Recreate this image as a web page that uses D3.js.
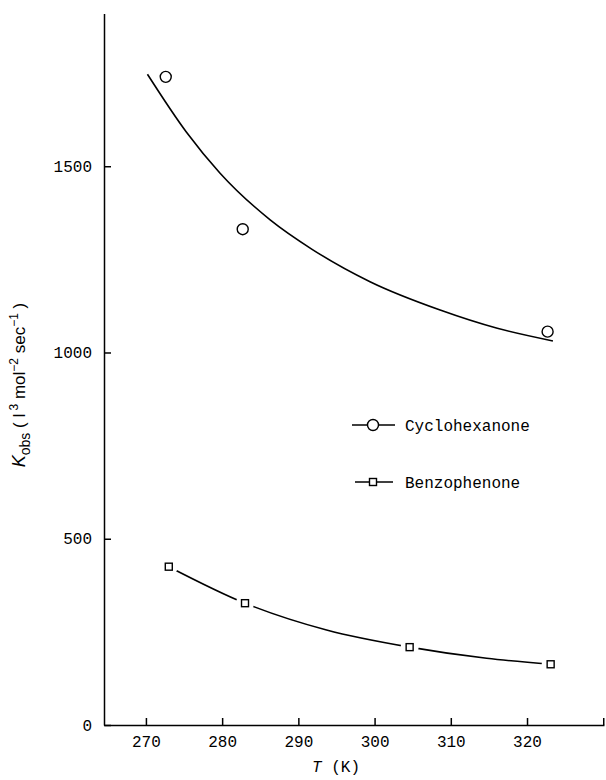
<!DOCTYPE html>
<html><head><meta charset="utf-8">
<script src="https://cdn.jsdelivr.net/npm/d3@7"></script>
<style>body{margin:0;background:#fff}svg{display:block}</style>
</head><body>
<svg id="c" width="606" height="780"></svg>
<script>
// ---- data ----
const cycloT = [272.6, 282.7, 322.7];
const cycloK = [1740, 1331, 1056];
const benzoT = [273.0, 283.0, 304.6, 323.1];
const benzoK = [425, 327, 209, 163];
// drawn smooth fitted curves
const cycloFitT = [270.2, 275.3, 279.7, 286.3, 291.8, 299.4, 308.6, 316.1, 323.4];
const cycloFitK = [1747, 1592, 1482, 1356, 1277, 1190, 1114, 1065, 1031];
const benzoFitT = [273.0, 283.0, 293.7, 304.6, 314.7, 323.1];
const benzoFitK = [425, 327, 255, 209, 179, 163];
const xTicks = [270, 280, 290, 300, 310, 320, 330];
const xTickLabels = ["270", "280", "290", "300", "310", "320", ""];
const yTicks = [0, 500, 1000, 1500];
const yTickLabels = ["0", "500", "1000", "1500"];
const legendLabels = ["Cyclohexanone", "Benzophenone"];

const svg = d3.select("#c");
const x = d3.scaleLinear().domain([264.5, 330.1]).range([104, 604]);
const y = d3.scaleLinear().domain([0, 1910]).range([725, 13.5]);
const mono = "'Liberation Mono', 'DejaVu Sans Mono', monospace";

// axes
const xAxis = d3.axisBottom(x).tickValues(xTicks)
  .tickFormat((d, i) => xTickLabels[i]).tickSizeInner(-7).tickSizeOuter(0).tickPadding(11);
const gx = svg.append("g").attr("transform", `translate(0,${y(0)})`).call(xAxis);
const yAxis = d3.axisLeft(y).tickValues(yTicks)
  .tickFormat((d, i) => yTickLabels[i]).tickSizeInner(-7).tickSizeOuter(0).tickPadding(12);
const gy = svg.append("g").attr("transform", `translate(${x.range()[0]},0)`).call(yAxis);
[gx, gy].forEach(g => {
  g.selectAll("path,line").attr("stroke", "#000").attr("stroke-width", 1.5);
  g.selectAll("text").attr("font-family", mono).attr("font-size", 16).attr("fill", "#000");
});

// curves
const line = d3.line().x(d => x(d[0])).y(d => y(d[1])).curve(d3.curveMonotoneX);
svg.append("path").attr("d", line(cycloFitT.map((t, i) => [t, cycloFitK[i]])))
  .attr("fill", "none").attr("stroke", "#000").attr("stroke-width", 1.6);
svg.append("path").attr("d", line(benzoFitT.map((t, i) => [t, benzoFitK[i]])))
  .attr("fill", "none").attr("stroke", "#000").attr("stroke-width", 1.6);

// markers
svg.selectAll("circle.cy").data(cycloT).enter().append("circle")
  .attr("cx", d => x(d)).attr("cy", (d, i) => y(cycloK[i])).attr("r", 5.5)
  .attr("fill", "#fff").attr("stroke", "#000").attr("stroke-width", 1.4);
// white halo producing the gaps in the benzophenone line
svg.selectAll("circle.halo").data(benzoT).enter().append("circle")
  .attr("cx", d => x(d)).attr("cy", (d, i) => y(benzoK[i])).attr("r", 9).attr("fill", "#fff");
svg.selectAll("rect.bz").data(benzoT).enter().append("rect")
  .attr("x", d => x(d) - 3.5).attr("y", (d, i) => y(benzoK[i]) - 3.5)
  .attr("width", 7).attr("height", 7)
  .attr("fill", "#fff").attr("stroke", "#000").attr("stroke-width", 1.4);

// legend
const leg = [{y: 425, l: [352, 395], sym: "circle"}, {y: 482, l: [355, 393], sym: "square"}];
leg.forEach((o, i) => {
  svg.append("line").attr("x1", o.l[0]).attr("x2", o.l[1]).attr("y1", o.y).attr("y2", o.y)
    .attr("stroke", "#000").attr("stroke-width", 1.4);
  if (o.sym === "circle") {
    svg.append("circle").attr("cx", 373).attr("cy", o.y).attr("r", 5.5)
      .attr("fill", "#fff").attr("stroke", "#000").attr("stroke-width", 1.4);
  } else {
    svg.append("rect").attr("x", 369.5).attr("y", o.y - 3.5).attr("width", 7).attr("height", 7)
      .attr("fill", "#fff").attr("stroke", "#000").attr("stroke-width", 1.4);
  }
  svg.append("text").attr("x", 405).attr("y", o.y + 5.5)
    .attr("font-family", mono).attr("font-size", 16).text(legendLabels[i]);
});

// axis titles
const xl = svg.append("text").attr("x", 336).attr("y", 772).attr("text-anchor", "middle")
  .attr("font-family", mono).attr("font-size", 16);
xl.append("tspan").attr("font-style", "italic").text("T");
xl.append("tspan").text(" (K)");

const yl = svg.append("text").attr("transform", "translate(25,385) rotate(-90)")
  .attr("text-anchor", "middle").attr("font-family", "'Liberation Sans', Arial, sans-serif")
  .attr("font-size", 17);
yl.append("tspan").attr("font-style", "italic").attr("font-size", 18).text("K");
yl.append("tspan").attr("font-size", 14).attr("dy", 5).text("obs");
yl.append("tspan").attr("dy", -5).text(" ( l");
yl.append("tspan").attr("font-size", 12).attr("dy", -7).text(" 3");
yl.append("tspan").attr("dy", 7).text(" mol");
yl.append("tspan").attr("font-size", 12).attr("dy", -7).text("−2");
yl.append("tspan").attr("dy", 7).text("  sec");
yl.append("tspan").attr("font-size", 12).attr("dy", -7).text("−1");
yl.append("tspan").attr("dy", 7).text(" )");
</script>
</body></html>
